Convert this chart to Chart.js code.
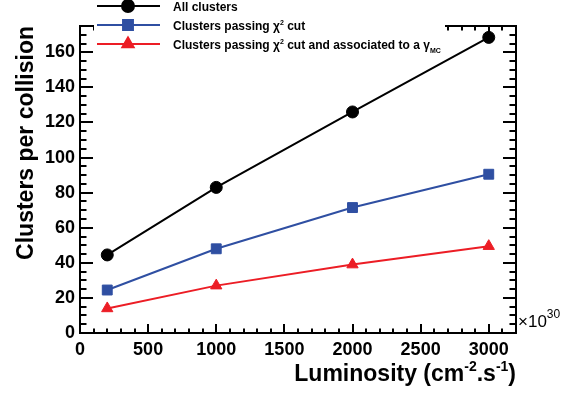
<!DOCTYPE html>
<html>
<head>
<meta charset="utf-8">
<script src="https://cdn.jsdelivr.net/npm/chart.js@4/dist/chart.umd.min.js"></script>
<style>
  html, body { margin: 0; padding: 0; background: #fff; }
  #wrap { width: 563px; height: 394px; }
</style>
</head>
<body>
<div id="wrap"><canvas id="c" width="563" height="394"></canvas></div>
<script>
// Luminosity points (in units of 10^30 cm^-2 s^-1)
const luminosity = [200, 1000, 2000, 3000];

// Mean number of clusters per collision
const allClusters   = [44.5, 83, 126, 168.5];
const chi2Clusters  = [24.5, 48, 71.5, 90.5];
const gammaClusters = [14, 27, 39, 49.5];

// Labelled tick values
const xTickValues = [0, 500, 1000, 1500, 2000, 2500, 3000];
const yTickValues = [0, 20, 40, 60, 80, 100, 120, 140, 160];

// Text (^{..} = superscript, _{..} = subscript)
const seriesLabels = [
  'All clusters',
  'Clusters passing χ^{2} cut',
  'Clusters passing χ^{2} cut and associated to a γ_{MC}'
];
const xTitle = 'Luminosity (cm^{-2}.s^{-1})';
const yTitle = 'Clusters per collision';
const xExponent = '30';

// Axis ranges and minor tick steps
const xRange = [0, 3200];
const yRange = [0, 175];
const xMinorStep = 100;
const yMinorStep = 5;

const FONT = '"Liberation Sans", Arial, Helvetica, sans-serif';
const BLUE = '#2f4fa2';
const RED = '#ec1d25';

function toPoints(ys) {
  return luminosity.map((x, i) => ({ x: x, y: ys[i] }));
}

// Draws text with simple ^{} / _{} markup
function drawRich(ctx, text, x, y, size, align, weight) {
  const parts = text.split(/(\^\{[^}]*\}|_\{[^}]*\})/).filter(p => p.length);
  const small = Math.round(size * 0.62);
  const segs = parts.map(p => {
    if (p.startsWith('^{')) return { t: p.slice(2, -1), size: small, dy: -size * 0.42 };
    if (p.startsWith('_{')) return { t: p.slice(2, -1), size: small, dy: size * 0.32 };
    return { t: p, size: size, dy: 0 };
  });
  let total = 0;
  segs.forEach(s => {
    ctx.font = weight + ' ' + s.size + 'px ' + FONT;
    s.w = ctx.measureText(s.t).width;
    total += s.w;
  });
  let cx = align === 'right' ? x - total : x;
  ctx.textAlign = 'left';
  ctx.textBaseline = 'alphabetic';
  segs.forEach(s => {
    ctx.font = weight + ' ' + s.size + 'px ' + FONT;
    ctx.fillText(s.t, cx, y + s.dy);
    cx += s.w;
  });
}

// Frame with inward ticks on all four sides, legend, x title and exponent
const framePlugin = {
  id: 'frame',
  afterDraw(chart) {
    const { ctx, chartArea: a, scales } = chart;
    const xs = scales.x, ys = scales.y;
    ctx.save();
    ctx.strokeStyle = '#000';
    ctx.fillStyle = '#000';

    // ticks
    ctx.lineWidth = 2;
    ctx.beginPath();
    for (let v = xRange[0]; v <= xRange[1] + 1e-6; v += xMinorStep) {
      const px = Math.round(xs.getPixelForValue(v));
      const len = xTickValues.includes(v) ? 9 : 4.5;
      ctx.moveTo(px, a.bottom); ctx.lineTo(px, a.bottom - len);
      ctx.moveTo(px, a.top); ctx.lineTo(px, a.top + len);
    }
    for (let v = yRange[0]; v <= yRange[1] + 1e-6; v += yMinorStep) {
      const py = Math.round(ys.getPixelForValue(v));
      const len = yTickValues.includes(v) ? 13 : 6.5;
      ctx.moveTo(a.left, py); ctx.lineTo(a.left + len, py);
      ctx.moveTo(a.right, py); ctx.lineTo(a.right - len, py);
    }
    ctx.stroke();

    // frame
    ctx.strokeRect(a.left, a.top, a.right - a.left, a.bottom - a.top);

    // x axis title, right aligned to the frame
    drawRich(ctx, xTitle, a.right, 381, 23, 'right', 'bold');

    // x axis exponent
    ctx.font = 'normal 17px ' + FONT;
    ctx.textAlign = 'left';
    ctx.textBaseline = 'alphabetic';
    const base = '×10';
    ctx.fillText(base, a.right + 2, 327);
    const bw = ctx.measureText(base).width;
    ctx.font = 'normal 12px ' + FONT;
    ctx.fillText(xExponent, a.right + 2 + bw, 318);

    // legend box (opaque, borderless) with line + marker + label per series
    ctx.fillStyle = '#fff';
    ctx.fillRect(94, 0, 351, 53);
    const rows = [6, 25, 44];
    chart.data.datasets.forEach((ds, i) => {
      const y = rows[i];
      ctx.strokeStyle = ds.borderColor;
      ctx.lineWidth = 2;
      ctx.beginPath();
      ctx.moveTo(97, y); ctx.lineTo(160, y);
      ctx.stroke();
      ctx.fillStyle = ds.backgroundColor;
      ctx.strokeStyle = ds.borderColor;
      Chart.helpers.drawPoint(ctx, {
        pointStyle: ds.pointStyle, radius: ds.pointRadius, rotation: 0, borderWidth: 1
      }, 128, y);
      ctx.fillStyle = '#000';
      drawRich(ctx, ds.label, 173, y + 5, 12, 'left', 'bold');
    });
    ctx.restore();
  }
};

const tickFont = { family: FONT, size: 18, weight: 'bold' };

new Chart(document.getElementById('c'), {
  type: 'line',
  data: {
    datasets: [
      { label: seriesLabels[0], data: toPoints(allClusters),
        borderColor: '#000', backgroundColor: '#000', pointStyle: 'circle', pointRadius: 6 },
      { label: seriesLabels[1], data: toPoints(chi2Clusters),
        borderColor: BLUE, backgroundColor: BLUE, pointStyle: 'rect', pointRadius: 7 },
      { label: seriesLabels[2], data: toPoints(gammaClusters),
        borderColor: RED, backgroundColor: RED, pointStyle: 'triangle', pointRadius: 6.5 }
    ].map(d => Object.assign(d, {
      borderWidth: 2, pointBorderWidth: 1, pointBorderColor: d.borderColor,
      pointBackgroundColor: d.backgroundColor, tension: 0, clip: false
    }))
  },
  options: {
    responsive: false,
    animation: false,
    devicePixelRatio: 1,
    layout: { padding: { top: 26, right: 47, left: 0, bottom: 0 } },
    plugins: { legend: { display: false }, tooltip: { enabled: false } },
    scales: {
      x: {
        type: 'linear', min: xRange[0], max: xRange[1],
        grid: { display: false, drawTicks: false }, border: { display: false },
        ticks: {
          autoSkip: false, maxRotation: 0,
          font: tickFont, color: '#000', padding: 6,
          callback: v => String(v)
        },
        afterBuildTicks: s => { s.ticks = xTickValues.map(v => ({ value: v })); },
        afterFit: s => { s.height = 61; }
      },
      y: {
        type: 'linear', min: yRange[0], max: yRange[1],
        grid: { display: false, drawTicks: false }, border: { display: false },
        ticks: {
          autoSkip: false,
          font: tickFont, color: '#000', padding: 5,
          callback: v => String(v)
        },
        afterBuildTicks: s => { s.ticks = yTickValues.map(v => ({ value: v })); },
        title: {
          display: true, text: yTitle, align: 'end', color: '#000',
          font: { family: FONT, size: 23, weight: 'bold' },
          padding: { top: 13, bottom: 0 }
        },
        afterFit: s => { s.width = 80; }
      }
    }
  },
  plugins: [framePlugin]
});
</script>
</body>
</html>
